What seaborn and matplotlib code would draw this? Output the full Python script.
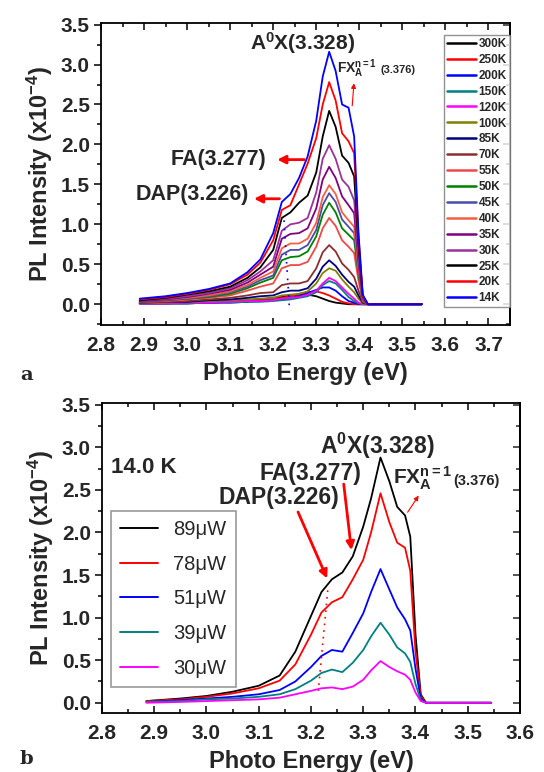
import matplotlib
matplotlib.use("Agg")
import matplotlib.pyplot as plt
import seaborn as sns
import pandas as pd
from matplotlib.ticker import MultipleLocator

# ---- panel a: temperature series ----
energy_a = [2.89, 2.95, 3.00, 3.05, 3.10, 3.14, 3.17, 3.20, 3.22, 3.24, 3.26, 3.28,
            3.30, 3.315, 3.33, 3.345, 3.36, 3.375, 3.388, 3.398, 3.408, 3.42, 3.545]
i_300K = [0.01, 0.01, 0.02, 0.02, 0.03, 0.05, 0.06, 0.08, 0.09, 0.11, 0.12, 0.12, 0.10, 0.07, 0.04, 0.02, 0.01, 0.0, 0.0, 0.0, 0.0, 0.0, 0.0]
i_250K = [0.01, 0.01, 0.01, 0.02, 0.03, 0.04, 0.05, 0.06, 0.08, 0.10, 0.13, 0.15, 0.16, 0.14, 0.11, 0.07, 0.03, 0.01, 0.0, 0.0, 0.0, 0.0, 0.0]
i_200K = [0.01, 0.01, 0.01, 0.02, 0.02, 0.03, 0.04, 0.05, 0.06, 0.08, 0.10, 0.14, 0.18, 0.21, 0.21, 0.17, 0.10, 0.04, 0.02, 0.0, 0.0, 0.0, 0.0]
i_150K = [0.01, 0.01, 0.01, 0.02, 0.02, 0.03, 0.03, 0.04, 0.05, 0.06, 0.08, 0.10, 0.15, 0.24, 0.29, 0.26, 0.18, 0.09, 0.04, 0.01, 0.0, 0.0, 0.0]
i_120K = [0.01, 0.01, 0.02, 0.02, 0.03, 0.04, 0.04, 0.05, 0.07, 0.08, 0.09, 0.12, 0.17, 0.26, 0.33, 0.29, 0.21, 0.13, 0.07, 0.02, 0.0, 0.0, 0.0]
i_100K = [0.02, 0.02, 0.03, 0.04, 0.05, 0.06, 0.07, 0.08, 0.11, 0.12, 0.13, 0.16, 0.26, 0.39, 0.45, 0.42, 0.31, 0.22, 0.15, 0.07, 0.01, 0.0, 0.0]
i_85K = [0.02, 0.03, 0.03, 0.05, 0.06, 0.08, 0.10, 0.11, 0.15, 0.17, 0.17, 0.20, 0.32, 0.47, 0.55, 0.48, 0.37, 0.28, 0.22, 0.11, 0.02, 0.0, 0.0]
i_70K = [0.02, 0.03, 0.04, 0.06, 0.08, 0.11, 0.14, 0.15, 0.24, 0.26, 0.26, 0.29, 0.45, 0.65, 0.74, 0.66, 0.51, 0.43, 0.34, 0.17, 0.03, 0.0, 0.0]
i_55K = [0.03, 0.04, 0.06, 0.08, 0.11, 0.17, 0.22, 0.26, 0.45, 0.49, 0.49, 0.53, 0.72, 0.95, 1.08, 0.98, 0.80, 0.72, 0.64, 0.30, 0.04, 0.0, 0.0]
i_50K = [0.03, 0.05, 0.07, 0.09, 0.13, 0.20, 0.27, 0.33, 0.55, 0.59, 0.60, 0.66, 0.85, 1.12, 1.27, 1.15, 0.95, 0.87, 0.80, 0.38, 0.05, 0.0, 0.0]
i_45K = [0.03, 0.05, 0.07, 0.10, 0.15, 0.22, 0.30, 0.36, 0.62, 0.68, 0.68, 0.74, 0.93, 1.24, 1.39, 1.28, 1.06, 0.97, 0.89, 0.42, 0.05, 0.0, 0.0]
i_40K = [0.04, 0.06, 0.08, 0.11, 0.16, 0.24, 0.33, 0.41, 0.70, 0.76, 0.76, 0.82, 1.02, 1.34, 1.49, 1.38, 1.15, 1.05, 0.97, 0.45, 0.06, 0.0, 0.0]
i_35K = [0.04, 0.06, 0.09, 0.13, 0.18, 0.27, 0.37, 0.47, 0.82, 0.88, 0.89, 0.95, 1.20, 1.56, 1.72, 1.58, 1.35, 1.24, 1.14, 0.52, 0.07, 0.0, 0.0]
i_30K = [0.05, 0.07, 0.10, 0.14, 0.20, 0.30, 0.41, 0.55, 0.92, 1.00, 1.02, 1.08, 1.40, 1.82, 1.99, 1.82, 1.56, 1.47, 1.30, 0.60, 0.08, 0.0, 0.0]
i_25K = [0.05, 0.08, 0.12, 0.16, 0.22, 0.33, 0.46, 0.68, 1.08, 1.15, 1.27, 1.36, 1.65, 2.10, 2.42, 2.22, 1.86, 1.77, 1.60, 0.75, 0.10, 0.0, 0.0]
i_20K = [0.06, 0.09, 0.13, 0.18, 0.25, 0.37, 0.52, 0.80, 1.18, 1.24, 1.50, 1.76, 2.08, 2.50, 2.78, 2.55, 2.14, 2.04, 1.89, 0.85, 0.10, 0.0, 0.0]
i_14K = [0.07, 0.10, 0.14, 0.19, 0.26, 0.40, 0.56, 0.89, 1.28, 1.38, 1.58, 1.85, 2.30, 2.85, 3.16, 2.92, 2.50, 2.46, 2.10, 0.90, 0.12, 0.0, 0.0]

temps = ["300K", "250K", "200K", "150K", "120K", "100K", "85K", "70K", "55K",
         "50K", "45K", "40K", "35K", "30K", "25K", "20K", "14K"]
series_a = [i_300K, i_250K, i_200K, i_150K, i_120K, i_100K, i_85K, i_70K, i_55K,
            i_50K, i_45K, i_40K, i_35K, i_30K, i_25K, i_20K, i_14K]
colors_a = ["black", "#ff0000", "#0000ff", "#008080", "#ff00ff", "#808000", "#000080",
            "#8b2e2e", "#f04848", "#008000", "#4b4ba8", "#f4603f", "#800080", "#993399",
            "black", "#ff0000", "#0000ff"]

# ---- panel b: excitation power series ----
energy_b = [2.885, 2.95, 3.00, 3.05, 3.10, 3.14, 3.17, 3.20, 3.22, 3.24, 3.26, 3.28,
            3.30, 3.315, 3.333, 3.35, 3.365, 3.38, 3.39, 3.40, 3.41, 3.42, 3.545]
p_89 = [0.02, 0.05, 0.08, 0.13, 0.20, 0.32, 0.60, 1.02, 1.30, 1.45, 1.53, 1.72, 2.07, 2.40, 2.88, 2.60, 2.30, 2.20, 1.95, 0.80, 0.10, 0.0, 0.0]
p_78 = [0.02, 0.04, 0.07, 0.11, 0.17, 0.26, 0.45, 0.80, 1.06, 1.18, 1.24, 1.45, 1.68, 2.00, 2.46, 2.12, 1.88, 1.82, 1.55, 0.60, 0.08, 0.0, 0.0]
p_51 = [0.01, 0.03, 0.05, 0.07, 0.10, 0.15, 0.25, 0.42, 0.55, 0.62, 0.60, 0.82, 1.05, 1.30, 1.57, 1.33, 1.12, 0.98, 0.85, 0.40, 0.05, 0.0, 0.0]
p_39 = [0.01, 0.02, 0.04, 0.05, 0.07, 0.10, 0.16, 0.26, 0.35, 0.39, 0.36, 0.47, 0.62, 0.78, 0.94, 0.80, 0.65, 0.58, 0.48, 0.22, 0.03, 0.0, 0.0]
p_30 = [0.00, 0.01, 0.02, 0.03, 0.04, 0.06, 0.10, 0.14, 0.17, 0.18, 0.16, 0.19, 0.27, 0.38, 0.49, 0.42, 0.37, 0.33, 0.27, 0.12, 0.02, 0.0, 0.0]

powers = ["89\u03bcW", "78\u03bcW", "51\u03bcW", "39\u03bcW", "30\u03bcW"]
series_b = [p_89, p_78, p_51, p_39, p_30]
colors_b = ["black", "#ff0000", "#0000ff", "#008080", "#ff00ff"]


def long_frame(energy, series, names):
    rows = []
    for name, vals in zip(names, series):
        rows.append(pd.DataFrame({"E": energy, "I": vals, "S": name}))
    return pd.concat(rows, ignore_index=True)


sns.set_style("ticks")
plt.rcParams["font.family"] = ["Liberation Sans", "DejaVu Sans"]
plt.rcParams["font.weight"] = "bold"
plt.rcParams["axes.labelweight"] = "bold"
plt.rcParams["mathtext.fontset"] = "custom"
plt.rcParams["mathtext.rm"] = "Liberation Sans:bold"
plt.rcParams["mathtext.it"] = "Liberation Sans:bold"
plt.rcParams["mathtext.bf"] = "Liberation Sans:bold"

fig = plt.figure(figsize=(5.44, 7.72), dpi=100)
ax_a = fig.add_axes([101 / 544, 1 - 325 / 772, 409 / 544, 302 / 772])
ax_b = fig.add_axes([102 / 544, 1 - 713 / 772, 418 / 544, 310 / 772])


def style_axes(ax, xmax, ymin):
    ax.set_xlim(2.8, xmax)
    ax.set_ylim(ymin, 3.52)
    ax.xaxis.set_major_locator(MultipleLocator(0.1))
    ax.xaxis.set_minor_locator(MultipleLocator(0.05))
    ax.yaxis.set_major_locator(MultipleLocator(0.5))
    ax.yaxis.set_minor_locator(MultipleLocator(0.25))
    ax.xaxis.set_major_formatter(plt.FormatStrFormatter("%.1f"))
    ax.yaxis.set_major_formatter(plt.FormatStrFormatter("%.1f"))
    ax.tick_params(axis="x", which="both", direction="in", top=True, labelsize=15,
                   width=1.1, color="black", pad=8)
    ax.tick_params(axis="y", which="both", direction="out", right=False, labelsize=15,
                   width=1.1, color="black", pad=3)
    ax.tick_params(which="major", length=5)
    ax.tick_params(which="minor", length=3)
    sec = ax.secondary_yaxis("right")
    sec.yaxis.set_major_locator(MultipleLocator(0.5))
    sec.yaxis.set_minor_locator(MultipleLocator(0.25))
    sec.tick_params(which="both", direction="in", labelright=False, width=1.1)
    sec.tick_params(which="major", length=5)
    sec.tick_params(which="minor", length=3)
    for sp in list(ax.spines.values()) + list(sec.spines.values()):
        sp.set_linewidth(1.3)
        sp.set_color("black")
    ax.set_xlabel("Photo Energy (eV)", fontsize=17, labelpad=5)
    ax.set_ylabel(r"PL Intensity (x10$^{-4}$)", fontsize=17, labelpad=4)


# ---- panel a ----
df_a = long_frame(energy_a, series_a, temps)
sns.lineplot(data=df_a, x="E", y="I", hue="S", hue_order=temps,
             palette=dict(zip(temps, colors_a)), sort=False, estimator=None,
             linewidth=1.3, ax=ax_a)
style_axes(ax_a, 3.75, -0.26)
sns.move_legend(ax_a, "upper right", bbox_to_anchor=(1.0, 0.96), title=None,
                frameon=True, fancybox=False, borderaxespad=0, borderpad=0.25,
                labelspacing=0.33, handlelength=2.4, handletextpad=0.25,
                prop={"weight": "bold", "size": 8.5}, edgecolor="#777777")
leg = ax_a.get_legend()
leg.get_frame().set_linewidth(1.0)
for h in leg.legend_handles:
    h.set_linewidth(1.8)

ax_a.plot([3.225, 3.238], [1.05, -0.08], color="#0000ff", ls=(0, (1, 4)), lw=1.2)
ax_a.text(3.268, 3.27, r"A$^0$X(3.328)", fontsize=15, ha="center", va="center")
ax_a.text(3.349, 2.89, r"FX$_\mathrm{A}^\mathrm{n=1}$", fontsize=10, ha="left", va="baseline")
ax_a.text(3.449, 2.89, "(3.376)", fontsize=8, ha="left", va="baseline")
ax_a.annotate("", xy=(3.388, 2.80), xytext=(3.383, 2.45),
              arrowprops=dict(arrowstyle="-|>", color="red", lw=0.8, mutation_scale=7))
ax_a.text(3.073, 1.81, "FA(3.277)", fontsize=15.5, ha="center", va="center")
ax_a.annotate("", xy=(3.203, 1.81), xytext=(3.279, 1.81),
              arrowprops=dict(arrowstyle="-|>", color="red", lw=2, mutation_scale=12))
ax_a.text(3.011, 1.37, "DAP(3.226)", fontsize=15.5, ha="center", va="center")
ax_a.annotate("", xy=(3.149, 1.32), xytext=(3.221, 1.32),
              arrowprops=dict(arrowstyle="-|>", color="red", lw=2, mutation_scale=12))

# ---- panel b ----
df_b = long_frame(energy_b, series_b, powers)
sns.lineplot(data=df_b, x="E", y="I", hue="S", hue_order=powers,
             palette=dict(zip(powers, colors_b)), sort=False, estimator=None,
             linewidth=1.3, ax=ax_b)
style_axes(ax_b, 3.6, -0.12)
sns.move_legend(ax_b, "upper left", bbox_to_anchor=(0.0215, 0.652), title=None,
                frameon=True, fancybox=False, borderaxespad=0, borderpad=0.45,
                labelspacing=0.78, handlelength=1.9, handletextpad=0.75,
                prop={"weight": "normal", "size": 14.5}, edgecolor="#808080")
leg = ax_b.get_legend()
leg.get_frame().set_linewidth(1.2)
for h in leg.legend_handles:
    h.set_linewidth(1.4)

ax_b.plot([3.232, 3.214], [1.32, 0.14], color="#ff0000", ls=(0, (1, 3)), lw=1.2)
ax_b.text(2.818, 2.76, "14.0 K", fontsize=16, ha="left", va="center")
ax_b.text(3.327, 3.02, r"A$^0$X(3.328)", fontsize=16.5, ha="center", va="center")
ax_b.text(3.199, 2.69, "FA(3.277)", fontsize=16.5, ha="center", va="center")
ax_b.text(3.139, 2.41, "DAP(3.226)", fontsize=16.5, ha="center", va="center")
ax_b.text(3.357, 2.56, r"FX$_\mathrm{A}^\mathrm{n=1}$", fontsize=15, ha="left", va="baseline")
ax_b.text(3.472, 2.56, "(3.376)", fontsize=10.5, ha="left", va="baseline")
ax_b.annotate("", xy=(3.233, 1.43), xytext=(3.173, 2.27),
              arrowprops=dict(arrowstyle="-|>", color="red", lw=2, mutation_scale=12))
ax_b.annotate("", xy=(3.278, 1.76), xytext=(3.262, 2.60),
              arrowprops=dict(arrowstyle="-|>", color="red", lw=2, mutation_scale=12))
ax_b.annotate("", xy=(3.409, 2.46), xytext=(3.382, 2.21),
              arrowprops=dict(arrowstyle="-|>", color="red", lw=0.8, mutation_scale=7))

fig.text(20 / 544, 1 - 375 / 772, "a", family="serif", fontsize=14, weight="bold",
         ha="left", va="center")
fig.text(20 / 544, 1 - 759 / 772, "b", family="serif", fontsize=14, weight="bold",
         ha="left", va="center")

fig.savefig("out.png", dpi=100)
